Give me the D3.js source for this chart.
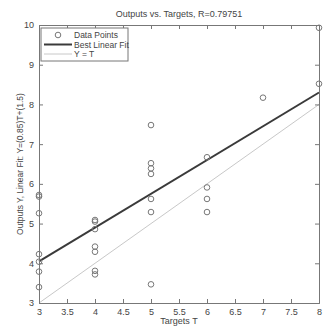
<!DOCTYPE html>
<html>
<head>
<meta charset="utf-8">
<script src="https://cdn.jsdelivr.net/npm/d3@7"></script>
<style>
  html, body { margin: 0; padding: 0; background: #fff; }
  svg text { font-family: "Liberation Sans", Arial, sans-serif; fill: #444; }
</style>
</head>
<body>
<div id="chart"></div>
<script>
// data
const targets = [3, 3, 3, 3, 3, 3, 3, 4, 4, 4, 4, 4, 4, 4, 5, 5, 5, 5, 5, 5, 5, 6, 6, 6, 6, 7, 8, 8];
const outputs = [5.72, 5.68, 5.26, 4.23, 4.04, 3.79, 3.40, 5.09, 5.05, 4.86, 4.42, 4.29, 3.81, 3.72,
                 7.48, 6.52, 6.39, 6.25, 5.62, 5.29, 3.47, 6.67, 5.91, 5.62, 5.29, 8.17, 9.93, 8.52];
const fitSlope = 0.85;
const fitIntercept = 1.5;
const xTicks = [3, 3.5, 4, 4.5, 5, 5.5, 6, 6.5, 7, 7.5, 8];
const yTicks = [3, 4, 5, 6, 7, 8, 9, 10];
const legendLabels = ['Data Points', 'Best Linear Fit', 'Y = T'];

const W = 324, H = 326;
const margin = { top: 25, right: 5, bottom: 23, left: 39 };
const width = W - margin.left - margin.right;
const height = H - margin.top - margin.bottom;

const svg = d3.select('#chart').append('svg')
  .attr('width', W).attr('height', H);

const g = svg.append('g')
  .attr('transform', `translate(${margin.left},${margin.top})`);

const x = d3.scaleLinear().domain([3, 8]).range([0, width]);
const y = d3.scaleLinear().domain([3, 10]).range([height, 0]);

const axisColor = '#777';

// Y = T line
g.append('line')
  .attr('x1', x(3)).attr('y1', y(3))
  .attr('x2', x(8)).attr('y2', y(8))
  .attr('stroke', '#c8c8c8').attr('stroke-width', 1);

// fit line
g.append('line')
  .attr('x1', x(3)).attr('y1', y(fitSlope * 3 + fitIntercept))
  .attr('x2', x(8)).attr('y2', y(fitSlope * 8 + fitIntercept))
  .attr('stroke', '#3a3a3a').attr('stroke-width', 2);

// points
g.selectAll('circle.pt')
  .data(targets.map((t, i) => ({ t, o: outputs[i] })))
  .enter()
  .append('circle')
  .attr('class', 'pt')
  .attr('cx', (d) => x(d.t))
  .attr('cy', (d) => y(d.o))
  .attr('r', 2.8)
  .attr('fill', 'none')
  .attr('stroke', '#777')
  .attr('stroke-width', 1);

// axes, ticks inside like matlab
const axBottom = g.append('g').attr('transform', `translate(0,${height})`)
  .call(d3.axisBottom(x).tickValues(xTicks).tickSize(-4).tickPadding(6).tickFormat(d3.format('')));
const axLeft = g.append('g')
  .call(d3.axisLeft(y).tickValues(yTicks).tickSize(-4).tickPadding(5).tickFormat(d3.format('')));
const axTop = g.append('g')
  .call(d3.axisTop(x).tickValues(xTicks).tickSize(-4).tickFormat(''));
const axRight = g.append('g').attr('transform', `translate(${width},0)`)
  .call(d3.axisRight(y).tickValues(yTicks).tickSize(-4).tickFormat(''));

[axBottom, axLeft, axTop, axRight].forEach((a) => {
  a.selectAll('path').attr('stroke', axisColor);
  a.selectAll('line').attr('stroke', axisColor);
  a.selectAll('text').style('font-size', '9px').attr('fill', '#444');
});

// title and labels
svg.append('text')
  .attr('x', margin.left + width / 2).attr('y', 17)
  .attr('text-anchor', 'middle').style('font-size', '9px')
  .text('Outputs vs. Targets, R=0.79751');

svg.append('text')
  .attr('x', margin.left + width / 2).attr('y', H - 2)
  .attr('text-anchor', 'middle').style('font-size', '9px')
  .text('Targets T');

svg.append('text')
  .attr('transform', `translate(23,${margin.top + height / 2}) rotate(-90)`)
  .attr('text-anchor', 'middle').style('font-size', '8.5px')
  .text('Outputs Y, Linear Fit: Y=(0.85)T+(1.5)');

// legend
const lg = g.append('g').attr('transform', 'translate(2,3)');
lg.append('rect')
  .attr('width', 87).attr('height', 33)
  .attr('fill', '#fff').attr('stroke', axisColor);
const rows = lg.selectAll('g.row').data(legendLabels).enter()
  .append('g').attr('class', 'row')
  .attr('transform', (d, i) => `translate(0,${7 + i * 9.5})`);
rows.append('text')
  .attr('x', 33).attr('y', 3)
  .style('font-size', '8.5px')
  .text((d) => d);
rows.filter((d, i) => i === 0).append('circle')
  .attr('cx', 17).attr('cy', 0).attr('r', 2.8)
  .attr('fill', 'none').attr('stroke', '#777');
rows.filter((d, i) => i === 1).append('line')
  .attr('x1', 3).attr('x2', 31).attr('stroke', '#3a3a3a').attr('stroke-width', 2);
rows.filter((d, i) => i === 2).append('line')
  .attr('x1', 3).attr('x2', 31).attr('stroke', '#c8c8c8').attr('stroke-width', 1);
</script>
</body>
</html>
